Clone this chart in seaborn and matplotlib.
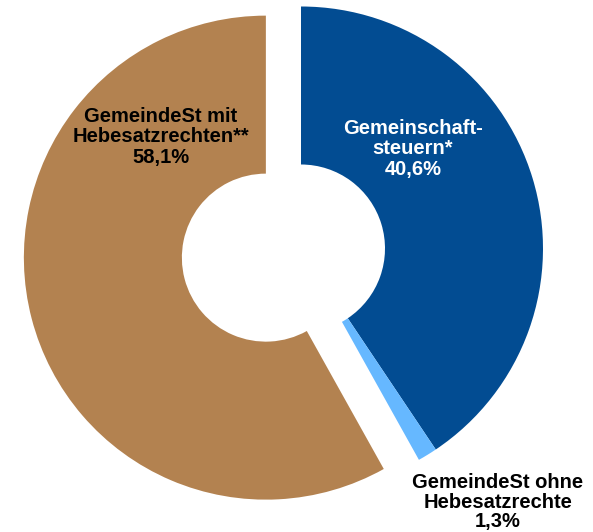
import matplotlib
matplotlib.use("Agg")
import matplotlib.pyplot as plt
import seaborn as sns

# Data
categories = ["Gemeinschaft-\nsteuern*", "GemeindeSt ohne\nHebesatzrechte", "GemeindeSt mit\nHebesatzrechten**"]
shares = [40.6, 1.3, 58.1]
share_labels = ["40,6%", "1,3%", "58,1%"]

sns.set_theme(style="white")
plt.rcParams["font.family"] = ["Liberation Sans", "DejaVu Sans"]

colors = ["#024C92", "#66B8FF", "#B38250"]
text_colors = ["white", "black", "black"]
explode = [0, 0, 36.3]

W, H = 593, 532
fig = plt.figure(figsize=(W / 100, H / 100), dpi=100)
ax = fig.add_axes([0, 0, 1, 1])

R, r = 242, 84
ax.pie(shares, colors=colors, startangle=90, counterclock=False,
       center=(301, H - 248.5), radius=R, explode=explode, frame=True,
       wedgeprops=dict(width=R - r, linewidth=0))
ax.set_xlim(0, W)
ax.set_ylim(0, H)
ax.set_aspect("equal")
ax.axis("off")

label_pos = [(413, H - 149), (498, H - 502), (161, H - 137)]
spacings = [1.07, 1.02, 1.09]
for cat, lab, (x, y), tc, ls in zip(categories, share_labels, label_pos, text_colors, spacings):
    ax.text(x, y, f"{cat}\n{lab}", ha="center", va="center", multialignment="center",
            fontsize=14.5, fontweight="bold", color=tc, linespacing=ls)

fig.savefig("out.png", dpi=100)
